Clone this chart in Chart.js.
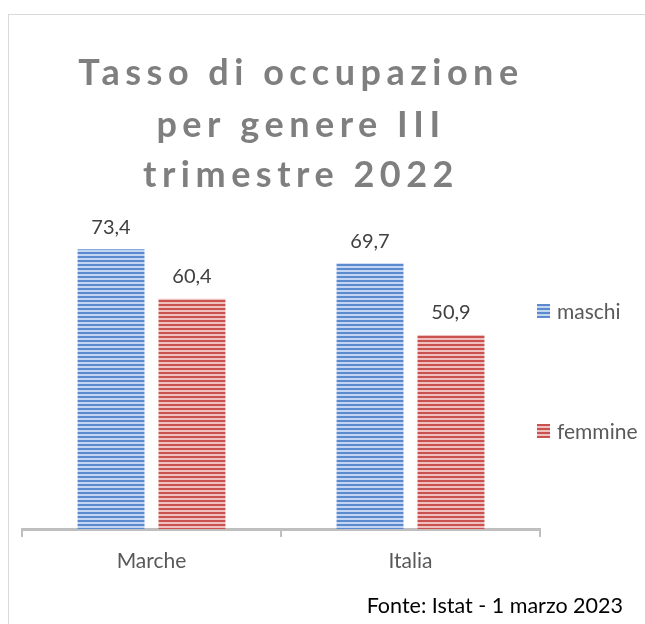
<!DOCTYPE html>
<html>
<head>
<meta charset="utf-8">
<script src="https://cdn.jsdelivr.net/npm/chart.js@4.4.1/dist/chart.umd.min.js"></script>
<style>
  html,body{margin:0;padding:0;background:#fff;}
  #wrap{position:relative;width:645px;height:624px;overflow:hidden;}
  #frame{position:absolute;left:8px;top:14px;width:700px;height:700px;border-left:1px solid #d9d9d9;border-top:1px solid #d9d9d9;}
  canvas{position:absolute;left:0;top:0;}
</style>
</head>
<body>
<div id="wrap">
  <div id="frame"></div>
  <canvas id="c" width="645" height="624"></canvas>
</div>
<script>
const categories = ["Marche", "Italia"];
const seriesNames = ["maschi", "femmine"];
const maschi = [73.4, 69.7];
const femmine = [60.4, 50.9];
const titleLines = ["Tasso di occupazione", "per genere III", "trimestre 2022"];
const sourceNote = "Fonte: Istat - 1 marzo 2023";

const FONT = "Lato, 'Open Sans', sans-serif";

function stripe(dark, light) {
  const p = document.createElement('canvas');
  p.width = 4; p.height = 4;
  const g = p.getContext('2d');
  g.fillStyle = light; g.fillRect(0, 0, 4, 4);
  g.fillStyle = dark; g.fillRect(0, 0, 4, 2);
  return document.getElementById('c').getContext('2d').createPattern(p, 'repeat');
}
const bluePat = stripe('#5b8ad1', '#c3d5f0');
const redPat = stripe('#c9514f', '#f0c0bf');
const swatches = [bluePat, redPat];

const extras = {
  id: 'extras',
  afterDraw(chart) {
    const ctx = chart.ctx;
    ctx.save();
    // title
    ctx.fillStyle = '#7f7f7f';
    ctx.font = "bold 36px " + FONT;
    ctx.textAlign = 'center';
    ctx.textBaseline = 'alphabetic';
    ctx.letterSpacing = '5.5px';
    const ys = [85, 137, 187];
    titleLines.forEach((t, i) => ctx.fillText(t, 301, ys[i]));
    ctx.letterSpacing = '0px';
    // value labels
    ctx.font = "20px " + FONT;
    ctx.fillStyle = '#404040';
    ctx.textBaseline = 'middle';
    chart.data.datasets.forEach((ds, di) => {
      chart.getDatasetMeta(di).data.forEach((bar, i) => {
        ctx.fillText(ds.data[i].toFixed(1).replace('.', ','), bar.x, bar.y - 22);
      });
    });
    // legend
    const ly = [311, 431];
    ctx.textAlign = 'left';
    ctx.font = "21px " + FONT;
    seriesNames.forEach((n, i) => {
      ctx.fillStyle = swatches[i];
      ctx.fillRect(537, ly[i] - 7, 13, 14);
      ctx.fillStyle = '#595959';
      ctx.fillText(n, 557, ly[i] + 1);
    });
    // source
    ctx.fillStyle = '#000000';
    ctx.font = "21.5px " + FONT;
    ctx.textAlign = 'right';
    ctx.textBaseline = 'alphabetic';
    ctx.fillText(sourceNote, 623, 613);
    ctx.restore();
  }
};

new Chart(document.getElementById('c'), {
  type: 'bar',
  data: {
    labels: categories,
    datasets: [
      { label: seriesNames[0], data: maschi, backgroundColor: bluePat, borderWidth: 0, categoryPercentage: 0.625, barPercentage: 0.827 },
      { label: seriesNames[1], data: femmine, backgroundColor: redPat, borderWidth: 0, categoryPercentage: 0.625, barPercentage: 0.827 }
    ]
  },
  options: {
    responsive: false,
    animation: false,
    devicePixelRatio: 1,
    layout: { padding: { left: 22, right: 105, top: 224, bottom: 0 } },
    plugins: { legend: { display: false }, title: { display: false }, tooltip: { enabled: false } },
    scales: {
      y: { display: false, min: 0, max: 80 },
      x: {
        offset: true,
        grid: { offset: true, drawOnChartArea: false, drawTicks: true, tickLength: 8, color: '#bfbfbf', lineWidth: 2 },
        border: { display: true, color: '#bfbfbf', width: 3 },
        ticks: { color: '#595959', font: { family: FONT, size: 21 }, padding: 12 },
        afterFit(scale) { scale.height = 95; }
      }
    }
  },
  plugins: [extras]
});
</script>
</body>
</html>
